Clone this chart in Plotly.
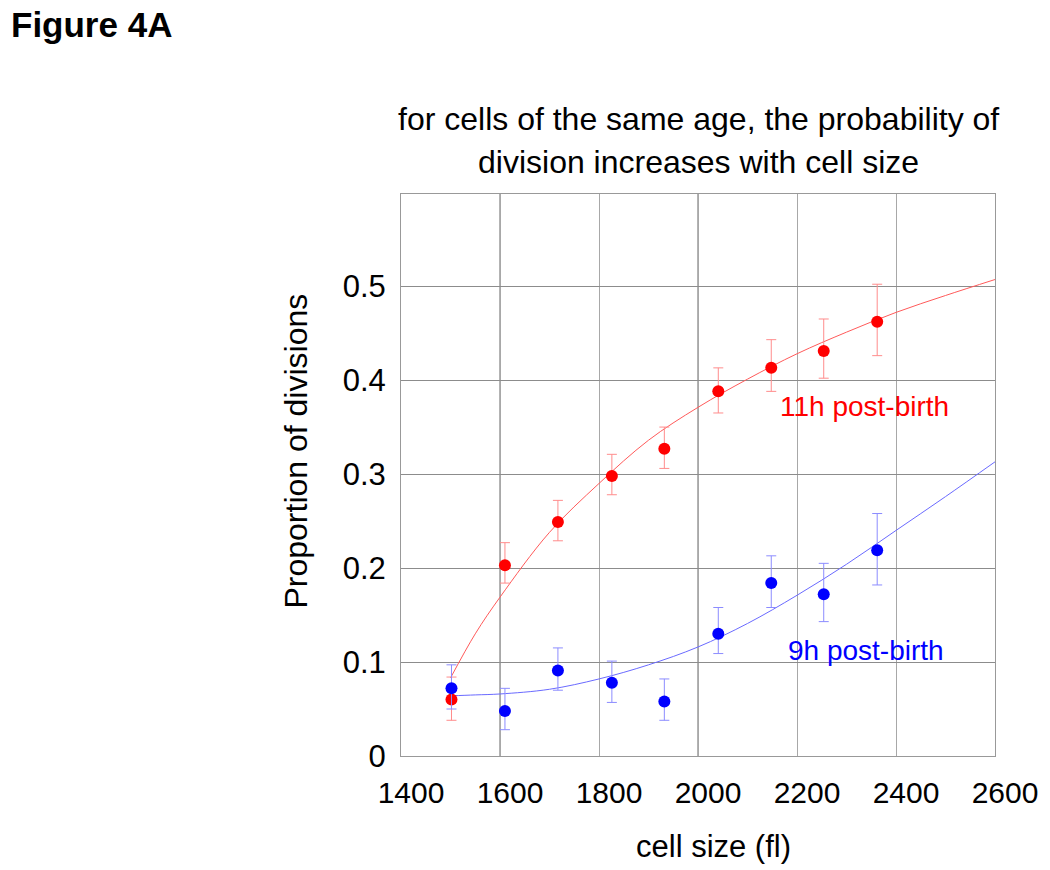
import plotly.graph_objects as go

# ---- data ----
cell_size = [1502, 1610, 1717, 1826, 1932, 2041, 2148, 2254, 2362]

p11 = [0.060, 0.203, 0.249, 0.298, 0.327, 0.388, 0.413, 0.431, 0.462]
p11_up = [0.084, 0.227, 0.272, 0.321, 0.350, 0.413, 0.443, 0.465, 0.502]
p11_lo = [0.038, 0.184, 0.229, 0.278, 0.306, 0.365, 0.388, 0.402, 0.426]

p9 = [0.072, 0.048, 0.091, 0.078, 0.058, 0.130, 0.184, 0.172, 0.219]
p9_up = [0.097, 0.072, 0.115, 0.101, 0.082, 0.158, 0.213, 0.205, 0.258]
p9_lo = [0.050, 0.028, 0.070, 0.057, 0.038, 0.109, 0.158, 0.143, 0.182]

fit_x = [1500, 1550, 1600, 1700, 1800, 1900, 2000, 2100, 2200, 2300, 2400, 2500, 2600]
fit11 = [0.083, 0.130, 0.169, 0.238, 0.290, 0.336, 0.371, 0.401, 0.428, 0.451, 0.472, 0.490, 0.507]
fit9 = [0.064, 0.065, 0.066, 0.071, 0.082, 0.097, 0.116, 0.141, 0.171, 0.204, 0.240, 0.276, 0.313]

x_ticks = [1400, 1600, 1800, 2000, 2200, 2400, 2600]
y_ticks = [0, 0.1, 0.2, 0.3, 0.4, 0.5]
y_tick_text = ["0", "0.1", "0.2", "0.3", "0.4", "0.5"]
dark_vlines = [1600, 2000]

title_lines = ["for cells of the same age, the probability of",
               "division increases with cell size"]

FONT = "Liberation Sans, Arial, sans-serif"

fig = go.Figure()

fig.add_trace(go.Scatter(x=fit_x, y=fit11, mode="lines", line=dict(color="#ff5a5a", width=1, shape="spline"),
                         hoverinfo="skip", showlegend=False))
fig.add_trace(go.Scatter(x=fit_x, y=fit9, mode="lines", line=dict(color="#6a6aff", width=1, shape="spline"),
                         hoverinfo="skip", showlegend=False))

fig.add_trace(go.Scatter(
    x=cell_size, y=p11, mode="markers",
    marker=dict(color="#ff0000", size=12),
    error_y=dict(type="data", symmetric=False,
                 array=[u - v for u, v in zip(p11_up, p11)],
                 arrayminus=[v - l for v, l in zip(p11, p11_lo)],
                 color="#ff8c8c", thickness=1, width=5),
    showlegend=False))
fig.add_trace(go.Scatter(
    x=cell_size, y=p9, mode="markers",
    marker=dict(color="#0000ff", size=12),
    error_y=dict(type="data", symmetric=False,
                 array=[u - v for u, v in zip(p9_up, p9)],
                 arrayminus=[v - l for v, l in zip(p9, p9_lo)],
                 color="#8c8cff", thickness=1, width=5),
    showlegend=False))

for xv in dark_vlines:
    fig.add_shape(type="line", xref="x", yref="paper", x0=xv, x1=xv, y0=0, y1=1,
                  line=dict(color="#666666", width=1), layer="below")

annotations = [
    dict(text="Figure 4A", xref="paper", yref="paper", x=(7 - 401) / 597, y=(756 - 24) / 562, xanchor="left",
         yanchor="middle", showarrow=False, font=dict(family=FONT, size=35, color="black", weight="bold")),
    dict(text=title_lines[0], xref="paper", yref="paper", x=0.5, y=(756 - 119) / 562, xanchor="center",
         yanchor="middle", showarrow=False, font=dict(family=FONT, size=32, color="black")),
    dict(text=title_lines[1], xref="paper", yref="paper", x=0.5, y=(756 - 162) / 562, xanchor="center",
         yanchor="middle", showarrow=False, font=dict(family=FONT, size=32, color="black")),
    dict(text="cell size (fl)", xref="paper", yref="paper", x=0.526, y=(756 - 846) / 562, xanchor="center",
         yanchor="middle", showarrow=False, font=dict(family=FONT, size=31, color="black")),
    dict(text="Proportion of divisions", xref="paper", yref="paper", x=(295 - 401) / 597, y=(756 - 451) / 562,
         xanchor="center", yanchor="middle", textangle=-90, showarrow=False,
         font=dict(family=FONT, size=32, color="black")),
    dict(text="11h post-birth", xref="x", yref="y", x=2336, y=0.372, xanchor="center", yanchor="middle",
         showarrow=False, font=dict(family=FONT, size=28, color="#ff0000")),
    dict(text="9h post-birth", xref="x", yref="y", x=2340, y=0.112, xanchor="center", yanchor="middle",
         showarrow=False, font=dict(family=FONT, size=28, color="#0000ff")),
]

fig.update_layout(
    width=1050, height=870,
    margin=dict(l=401, r=52, t=194, b=114),
    paper_bgcolor="white", plot_bgcolor="white",
    font=dict(family=FONT, color="black"),
    annotations=annotations,
    xaxis=dict(range=[1400, 2600], tickvals=x_ticks, ticks="", showgrid=True, gridcolor="#a8a8a8",
               gridwidth=1, zeroline=False, showline=True, linecolor="#999999", mirror=True,
               tickfont=dict(family=FONT, size=30, color="black"), ticklabelstandoff=10,
               ticklabelshift=10),
    yaxis=dict(range=[0, 0.598], tickvals=y_ticks, ticktext=y_tick_text, ticks="", showgrid=True,
               gridcolor="#8c8c8c", gridwidth=1, zeroline=False, showline=True, linecolor="#999999",
               mirror=True, tickfont=dict(family=FONT, size=31, color="black"), ticklabelstandoff=8),
)

fig.write_html("out.html", config={"displayModeBar": False},
               post_script="document.body.style.margin='0px';")
